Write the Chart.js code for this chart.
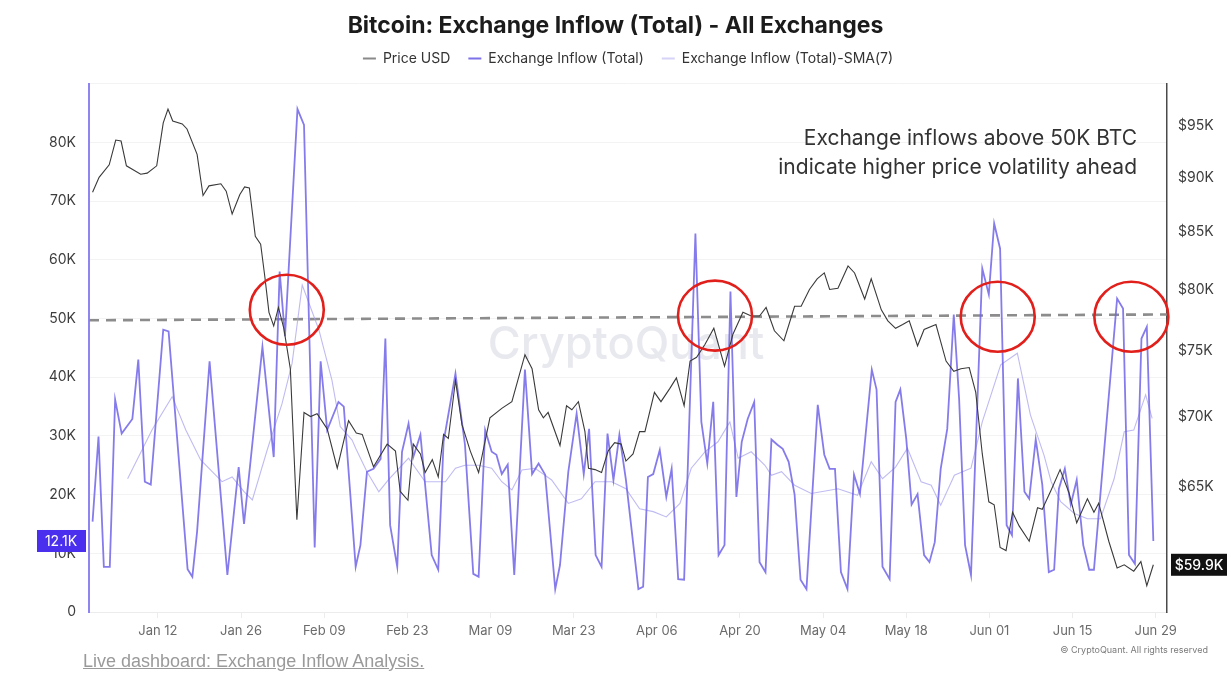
<!DOCTYPE html>
<html>
<head>
<meta charset="utf-8">
<script src="https://cdn.jsdelivr.net/npm/chart.js@4.4.1/dist/chart.umd.min.js"></script>
<style>
  body { margin: 0; background: #fff; }
  #wrap { position: relative; width: 1231px; height: 681px; }
  #footer-link {
    position: absolute; left: 83px; top: 651px;
    font: 18px "Liberation Sans Narrow", "Liberation Sans", sans-serif;
    color: #9a9a9a; text-decoration: underline; white-space: nowrap;
  }
  #copyright {
    position: absolute; right: 23px; top: 644px;
    font: 9px Inter, sans-serif; color: #7a7a7a; white-space: nowrap;
  }
</style>
</head>
<body>
<div id="wrap">
  <canvas id="chart" width="1231" height="681"></canvas>
  <div id="footer-link">Live dashboard: Exchange Inflow Analysis.</div>
  <div id="copyright">© CryptoQuant. All rights reserved</div>
</div>
<script>
// days counted from Jan 01 (day 0)
const xTickDays = [11, 25, 39, 53, 67, 81, 95, 109, 123, 137, 151, 165, 179];
const xTickLabels = ["Jan 12", "Jan 26", "Feb 09", "Feb 23", "Mar 09", "Mar 23", "Apr 06", "Apr 20", "May 04", "May 18", "Jun 01", "Jun 15", "Jun 29"];
const priceTicks = [65000, 70000, 75000, 80000, 85000, 90000, 95000];

const inflowDays = [
  0, 1, 1.9, 2.9, 3.8, 4.9, 6.7, 7.7, 8.8, 9.8, 11.9, 12.8, 16, 16.8, 17.6, 19.7, 22.7, 24.6, 25.5, 28.6,
  30.5, 31.5, 32.4, 34.5, 35.6, 37.4, 38.4, 39.5, 41.4, 42.3, 44.3, 45.1, 46.2, 47.3, 48.5, 49.3, 50.1, 51.3, 52.1, 53.2,
  54, 55.2, 57.1, 58.2, 59.1, 61.1, 62.7, 64.1, 65, 66.1, 67.2, 68, 68.9, 69.9, 71, 72.8, 74, 75.1, 76.2, 77.9,
  78.7, 80.1, 81.5, 82.7, 83.6, 84.7, 85.7, 86.7, 87.7, 88.7, 89.8, 91.9, 92.7, 93.5, 94.4, 95.5, 96.6, 97.5, 98.6, 99.6,
  101.5, 102.5, 103.5, 104.5, 105.4, 106.4, 107.4, 108.4, 109.3, 110.3, 111.4, 112.3, 113.3, 114.3, 115.3, 116.2, 117.2, 118.2, 119.2, 120.2,
  122.1, 123.2, 124.1, 125, 126, 127.1, 128.2, 129.2, 131.2, 132, 133, 134.2, 135.2, 136, 137, 137.9, 138.9, 140, 140.9, 141.8,
  142.8, 143.9, 145, 145.9, 146.9, 147.9, 149.8, 150.9, 151.8, 152.8, 153.9, 154.8, 155.8, 156.9, 157.7, 158.8, 159.9, 161, 161.9, 162.7,
  163.7, 164.7, 165.7, 166.8, 167.8, 168.6, 172.5, 173.5, 174.5, 175.5, 176.6, 177.5, 178.6
];
const inflowValues = [
  15400, 29900, 7700, 7700, 36200, 30400, 32900, 43000, 22200, 21700, 48100, 47800, 7300, 6000, 13700, 42700, 6300, 24700, 15000, 45200,
  26400, 58000, 47000, 85700, 83000, 11000, 42700, 31000, 35800, 35000, 7700, 11400, 23900, 24400, 26100, 46600, 14800, 7700, 27300, 32100,
  26400, 30200, 9700, 7200, 29000, 40600, 28500, 6500, 6000, 31000, 27300, 26800, 23500, 25100, 6300, 41300, 23500, 25300, 23400, 3900,
  8000, 23900, 33800, 23500, 31200, 9700, 7700, 30400, 22500, 30200, 22500, 3900, 4300, 23000, 23500, 27600, 19600, 24400, 5600, 5500,
  64500, 32400, 25300, 35800, 9700, 11400, 54600, 19600, 29000, 32900, 35800, 8500, 6800, 29400, 28500, 27800, 25600, 20000, 5500, 3900,
  35300, 26800, 24400, 24400, 6800, 3900, 23400, 20100, 41300, 37900, 7700, 5600, 35800, 37900, 29500, 18300, 20100, 9700, 8500, 11900,
  24400, 31200, 50700, 36300, 11400, 6300, 58500, 54100, 66200, 61900, 14800, 13100, 39800, 20500, 19300, 29400, 21700, 6800, 7200, 21000,
  24400, 18300, 22500, 11400, 7200, 7200, 53400, 51700, 9700, 8200, 46600, 48600, 12100
];

const smaDays = [
  5.9, 10, 13.4, 15.7, 18.2, 21.8, 23.5, 25.5, 26.9, 29.4, 31.9, 33.6, 35.3, 38.1, 40.3, 41.7, 43.7, 44.3, 46.2, 48.2,
  49.8, 53.2, 56, 59.4, 61.1, 62.7, 65, 67.2, 68.9, 70.6, 72.3, 74.5, 77.3, 80.1, 82.3, 84.6, 87.4, 89.8, 92.1, 94.4,
  96.6, 98.9, 100.8, 103.1, 105.3, 107.3, 108.7, 110.9, 113.2, 114.3, 116, 118.2, 121, 125.5, 128.8, 131.1, 133, 135.2, 137.2, 139.5,
  141.2, 142.8, 145.1, 147.9, 149.8, 152.9, 155.7, 157.9, 160.2, 161.4, 163, 165.3, 167.5, 169.7, 172, 173.7, 175.3, 177.3, 178.4
];
const smaValues = [
  22700, 31000, 36700, 31000, 25900, 22200, 23000, 20500, 19100, 27600, 35500, 42400, 55700, 48100, 39500, 31600, 29300, 27900, 23900, 20500,
  22500, 26200, 22200, 22200, 24500, 25000, 25000, 24500, 22200, 20800, 24200, 24500, 22500, 18500, 19300, 22200, 22200, 21000, 17600, 17100,
  16200, 18500, 24500, 27300, 29000, 32400, 26200, 27300, 25000, 23300, 23900, 21600, 20200, 21000, 19900, 25600, 22700, 24700, 27900, 22200,
  21600, 18200, 23300, 24500, 32400, 42100, 44100, 33600, 26700, 22200, 18800, 16800, 15900, 15900, 22700, 30700, 31000, 37000, 33000
];

const priceDays = [
  0, 1.1, 2.8, 3.9, 4.8, 5.7, 8.1, 9.2, 10.8, 11.9, 12.7, 13.5, 15.1, 15.9, 17.6, 18.6, 19.6, 21.6, 22.5, 23.5,
  24.8, 25.6, 26.4, 27.4, 28.3, 29, 29.7, 30.5, 31.3, 32.2, 33.3, 34.4, 35.6, 36.7, 37.8, 39.5, 41.2, 43.1, 44.4, 45.4,
  47.3, 49.6, 51, 51.8, 53.1, 54, 55.2, 56, 57.2, 58.2, 59.1, 59.9, 61.1, 62.2, 63.6, 65, 66.9, 68.9, 70.6, 72.8,
  74, 75.1, 75.9, 76.7, 78.7, 79.8, 80.7, 81.8, 82.9, 83.5, 84.6, 85.7, 86.8, 87.9, 89, 89.8, 91, 92.1, 93, 94.6,
  95.7, 97.2, 98.3, 99.6, 100.6, 101.7, 103.1, 104.6, 106.4, 107.8, 109.5, 110.9, 112.3, 113.4, 114.8, 116.4, 118.2, 119.3, 120.7, 122,
  123.2, 124.1, 125.5, 127.2, 128.3, 130, 131.1, 132.8, 133.9, 135.2, 136.4, 137.5, 138.9, 140, 142, 143.7, 145, 146.2, 147.6, 148.7,
  149.8, 150.9, 151.8, 152.8, 153.8, 154.9, 156, 157.7, 159.1, 159.9, 161.4, 162.9, 164.4, 165.7, 167.5, 168.6, 169.4, 171.1, 172.5, 173.7,
  175.3, 176.5, 177.5, 178.6
];
const priceValues = [
  88600, 90000, 91200, 93600, 93500, 91100, 90300, 90400, 91100, 95300, 96700, 95500, 95200, 94700, 92200, 88300, 89200, 89400, 88700, 86600,
  88400, 89100, 89000, 84600, 83900, 81100, 78100, 77000, 78500, 76800, 73600, 62800, 70300, 70000, 70200, 69100, 66300, 69700, 68800, 68700,
  66400, 68000, 67500, 64700, 64100, 68000, 67300, 66000, 66900, 65700, 68700, 68400, 72700, 69400, 67500, 66000, 69900, 70600, 71100, 74700,
  73600, 70500, 69900, 70300, 67900, 70800, 70500, 71100, 68900, 66300, 66200, 66000, 67500, 68100, 68000, 66800, 67300, 68900, 68900, 71800,
  71100, 72100, 72900, 70800, 74200, 74500, 75500, 76800, 73800, 76300, 78100, 77800, 77800, 78500, 76600, 75800, 78600, 78600, 80000, 80900,
  81400, 80000, 80100, 82000, 81400, 79200, 80900, 78300, 77400, 76800, 77100, 77400, 75400, 76700, 77100, 74200, 73400, 73600, 73700, 71800,
  67300, 64000, 63800, 61000, 60800, 63300, 62400, 61400, 63600, 63500, 64800, 66200, 64600, 62600, 64200, 63300, 63900, 61400, 59700, 59900,
  59500, 60100, 58600, 59900
];

// 50K BTC threshold line (slightly rising across the window)
const thresholdDays = [-0.6, 180.9];
const thresholdValues = [49700, 50700];

// red highlight circles (centre in data units)
const circleDays = [32.7, 104.8, 152.4, 174.9];
const circleValues = [51500, 50500, 50300, 50300];

const toPoints = (xs, ys) => xs.map((x, i) => ({ x, y: ys[i] }));

const FONT = "Inter, 'Noto Sans', sans-serif";

const extrasPlugin = {
  id: "extras",
  beforeDatasetsDraw(chart) {
    const { ctx } = chart;
    ctx.save();
    ctx.font = "500 45px " + FONT;
    ctx.fillStyle = "rgba(205, 205, 220, 0.45)";
    ctx.textAlign = "center";
    ctx.textBaseline = "middle";
    ctx.fillText("CryptoQuant", 626, 345);
    ctx.restore();
  },
  afterDatasetsDraw(chart) {
    const { ctx, scales } = chart;
    const xs = scales.x, yf = scales.yFlow;
    ctx.save();
    ctx.strokeStyle = "#e1201c";
    ctx.lineWidth = 2.6;
    circleDays.forEach((d, i) => {
      ctx.beginPath();
      ctx.ellipse(xs.getPixelForValue(d), yf.getPixelForValue(circleValues[i]), 37, 35, 0, 0, Math.PI * 2);
      ctx.stroke();
    });
    ctx.font = "21px " + FONT;
    ctx.fillStyle = "#333";
    ctx.textAlign = "right";
    ctx.textBaseline = "middle";
    ctx.fillText("Exchange inflows above 50K BTC", 1137, 139);
    ctx.fillText("indicate higher price volatility ahead", 1137, 168);
    ctx.restore();
  },
  afterDraw(chart) {
    const { ctx, scales } = chart;
    const lastFlow = inflowValues[inflowValues.length - 1];
    const lastPrice = priceValues[priceValues.length - 1];
    const yl = scales.yFlow.getPixelForValue(lastFlow);
    const yr = scales.yPrice.getPixelForValue(lastPrice);
    ctx.save();
    ctx.textBaseline = "middle";
    ctx.textAlign = "center";
    ctx.fillStyle = "#4a30ee";
    ctx.fillRect(37, yl - 11, 49, 22);
    ctx.fillStyle = "#fff";
    ctx.font = "14px " + FONT;
    ctx.fillText((lastFlow / 1000).toFixed(1) + "K", 61, yl + 1);
    ctx.fillStyle = "#111";
    ctx.fillRect(1171, yr - 11, 56, 22);
    ctx.fillStyle = "#fff";
    ctx.font = "500 14px " + FONT;
    ctx.fillText("$" + (lastPrice / 1000).toFixed(1) + "K", 1199, yr + 1);
    ctx.restore();
  }
};

new Chart(document.getElementById("chart"), {
  type: "line",
  data: {
    datasets: [
      {
        label: "Price USD",
        data: toPoints(priceDays, priceValues),
        yAxisID: "yPrice",
        borderColor: "#3a3a3a",
        backgroundColor: "#8a8a8a",
        borderWidth: 1.1,
      },
      {
        label: "Exchange Inflow (Total)",
        data: toPoints(inflowDays, inflowValues),
        yAxisID: "yFlow",
        borderColor: "rgba(112, 100, 232, 0.85)",
        backgroundColor: "#7d72ea",
        borderWidth: 1.8,
      },
      {
        label: "Exchange Inflow (Total)-SMA(7)",
        data: toPoints(smaDays, smaValues),
        yAxisID: "yFlow",
        borderColor: "rgba(170, 164, 236, 0.75)",
        backgroundColor: "#d6d3f7",
        borderWidth: 1.1,
      },
      {
        label: "threshold",
        data: toPoints(thresholdDays, thresholdValues),
        yAxisID: "yFlow",
        borderColor: "#8c8c8c",
        borderWidth: 2.6,
        borderDash: [10, 7],
      },
    ],
  },
  options: {
    responsive: false,
    animation: false,
    devicePixelRatio: 1,
    elements: { point: { radius: 0 }, line: { tension: 0 } },
    layout: { padding: { top: 0, left: 0, right: 0, bottom: 39 } },
    plugins: {
      tooltip: { enabled: false },
      title: {
        display: true,
        text: "Bitcoin: Exchange Inflow (Total) - All Exchanges",
        color: "#1b1b1b",
        font: { family: FONT, size: 23, weight: "bold" },
        padding: { top: 12, bottom: -6 },
      },
      // empty spacer between legend and plot area
      subtitle: {
        display: true,
        text: "",
        weight: 500,
        font: { size: 1 },
        padding: { top: 7, bottom: 0 },
      },
      legend: {
        display: true,
        fullSize: false,
        labels: {
          color: "#333",
          font: { family: FONT, size: 14 },
          boxWidth: 13,
          boxHeight: 2,
          padding: 18,
          filter: (item) => item.text !== "threshold",
          generateLabels(chart) {
            return Chart.defaults.plugins.legend.labels.generateLabels(chart).map((l) => {
              l.lineWidth = 0;
              return l;
            });
          },
        },
      },
    },
    scales: {
      x: {
        type: "linear",
        min: -0.6,
        max: 180.9,
        afterBuildTicks(scale) {
          scale.ticks = xTickDays.map((v) => ({ value: v }));
        },
        afterFit(scale) {
          scale.height = 30;
        },
        ticks: {
          autoSkip: false,
          maxRotation: 0,
          padding: 5,
          color: "#6b6b6b",
          font: { family: FONT, size: 13 },
          callback: (v) => xTickLabels[xTickDays.indexOf(v)],
        },
        grid: { drawOnChartArea: false, tickLength: 6, color: "#ececec" },
        border: { color: "#ececec" },
      },
      yFlow: {
        position: "left",
        min: 0,
        max: 90000,
        afterFit(scale) {
          scale.width = 89;
        },
        ticks: {
          stepSize: 10000,
          padding: 13,
          color: "#3d3d3d",
          font: { family: FONT, size: 14 },
          callback: (v) => (v === 0 ? "0" : v >= 90000 ? "" : v / 1000 + "K"),
        },
        grid: { color: "#f3f3f3", drawTicks: false },
        border: { color: "#8f85f1", width: 2 },
      },
      yPrice: {
        type: "logarithmic",
        position: "right",
        min: 57000,
        max: 99300,
        afterBuildTicks(scale) {
          scale.ticks = priceTicks.map((v) => ({ value: v }));
        },
        afterFit(scale) {
          scale.width = 64;
        },
        ticks: {
          padding: 11,
          color: "#3d3d3d",
          font: { family: FONT, size: 14 },
          callback: (v) => "$" + v / 1000 + "K",
        },
        grid: { drawOnChartArea: false, drawTicks: false },
        border: { color: "#4a4a4a", width: 1.5 },
      },
    },
  },
  plugins: [extrasPlugin],
});
</script>
</body>
</html>
